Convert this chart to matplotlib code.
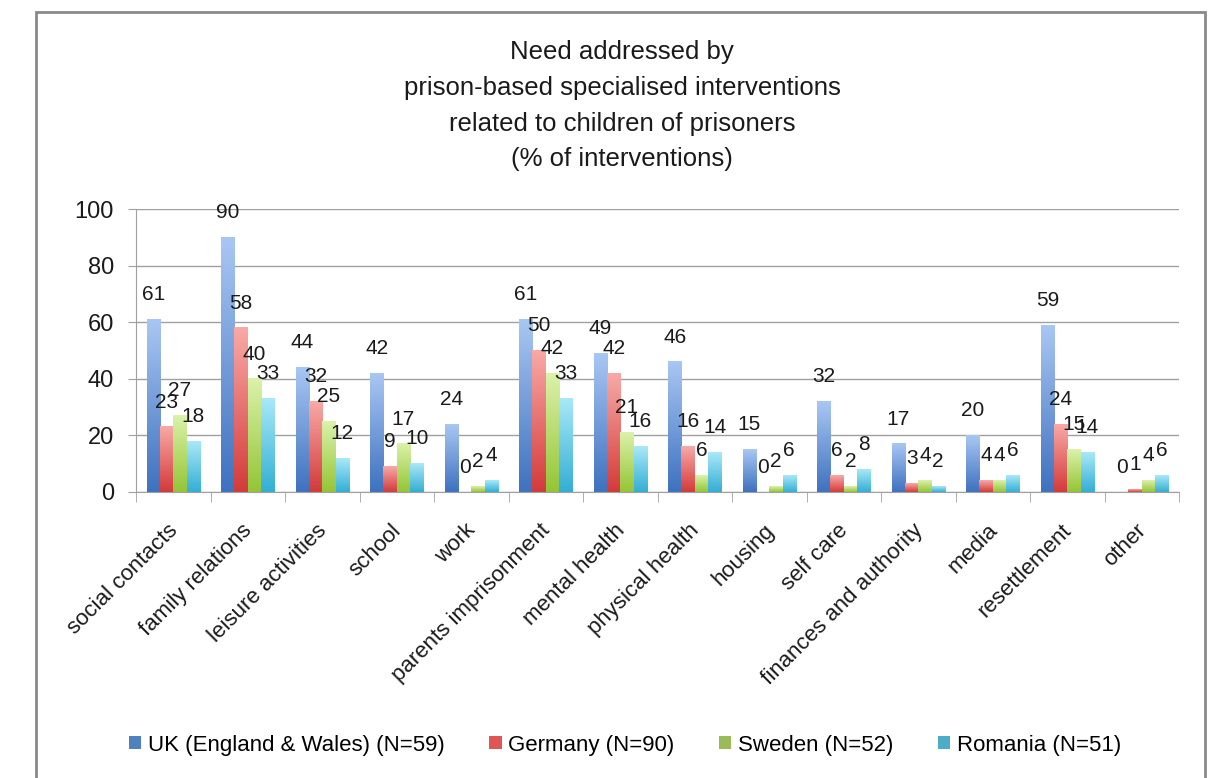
import numpy as np
import matplotlib.pyplot as plt
import matplotlib.transforms as mtransforms
from matplotlib.patches import Patch, Rectangle
from matplotlib.colors import LinearSegmentedColormap

plt.rcParams['font.family'] = ['Liberation Sans', 'DejaVu Sans']

categories = ['social contacts', 'family relations', 'leisure activities', 'school', 'work',
              'parents imprisonment', 'mental health', 'physical health', 'housing', 'self care',
              'finances and authority', 'media', 'resettlement', 'other']
series_names = ['UK (England & Wales) (N=59)', 'Germany (N=90)', 'Sweden (N=52)', 'Romania (N=51)']
uk = [61, 90, 44, 42, 24, 61, 49, 46, 15, 32, 17, 20, 59, 0]
germany = [23, 58, 32, 9, 0, 50, 42, 16, 0, 6, 3, 4, 24, 1]
sweden = [27, 40, 25, 17, 2, 42, 21, 6, 2, 2, 4, 4, 15, 4]
romania = [18, 33, 12, 10, 4, 33, 16, 14, 6, 8, 2, 6, 14, 6]
yticks = [0, 20, 40, 60, 80, 100]
title = ('Need addressed by\nprison-based specialised interventions\n'
         'related to children of prisoners\n(% of interventions)')

# (top colour, bottom colour, legend colour) per series
colours = [('#a9c7f3', '#3e71bf', '#4f81bd'),
           ('#f8aaa7', '#d33a3a', '#e05555'),
           ('#dbf2ab', '#94c535', '#9bbb59'),
           ('#a9e9f8', '#33aed4', '#4bacc6')]

fig = plt.figure(figsize=(12.08, 7.78), dpi=100)
# outer chart frame, bottom edge runs off the picture like the original
fig.patches.append(Rectangle((36 / 1208, -0.02), (1205 - 36) / 1208, 1 - 12 / 778 + 0.02,
                             transform=fig.transFigure, fill=False,
                             edgecolor='#8a8a8a', linewidth=2))

ax = fig.add_axes([136 / 1208, 1 - 492 / 778, (1179 - 136) / 1208, (492 - 209) / 778])

x = np.arange(len(categories))
width = 0.178
grad = np.linspace(1, 0, 256).reshape(-1, 1)

for i, vals in enumerate([uk, germany, sweden, romania]):
    top, bottom, _ = colours[i]
    cmap = LinearSegmentedColormap.from_list('g%d' % i, [bottom, top])
    offs = (i - 1.5) * width
    for xi, v in zip(x, vals):
        x0 = xi + offs - width / 2
        if v > 0:
            ax.imshow(grad, extent=[x0, x0 + width, 0, v], aspect='auto',
                      cmap=cmap, vmin=0, vmax=1, zorder=2, interpolation='bilinear')
        ax.annotate(str(v), (xi + offs, v), xytext=(0, 11), textcoords='offset points',
                    ha='center', va='bottom', fontsize=15, color='#1a1a1a', zorder=4)

ax.set_xlim(-0.5, len(categories) - 0.5)
ax.set_ylim(0, 100)
ax.set_yticks(yticks)
ax.tick_params(axis='y', labelsize=17, length=6, color='#a0a0a0', pad=10, labelcolor='#1a1a1a')
ax.grid(axis='y', color='#a0a0a0', linewidth=1, zorder=0)
ax.set_axisbelow(True)

ax.set_xticks(x)
ax.set_xticklabels(categories, rotation=45, ha='right', rotation_mode='anchor',
                   fontsize=16, color='#1a1a1a')
ax.tick_params(axis='x', which='major', length=0, pad=20)
shift = mtransforms.ScaledTranslation(-0.06, 0, fig.dpi_scale_trans)
for lab in ax.get_xticklabels():
    lab.set_transform(lab.get_transform() + shift)
ax.set_xticks(np.arange(len(categories) + 1) - 0.5, minor=True)
ax.tick_params(axis='x', which='minor', length=7, color='#a0a0a0')

for s in ['top', 'right']:
    ax.spines[s].set_visible(False)
for s in ['left', 'bottom']:
    ax.spines[s].set_color('#a0a0a0')

fig.text(622 / 1208, 1 - 40 / 778, title, ha='center', va='top', fontsize=18.5,
         linespacing=1.62, color='#1a1a1a')

handles = [Patch(facecolor=c[2], edgecolor='none') for c in colours]
fig.legend(handles, series_names, loc='center', bbox_to_anchor=(625 / 1208, 1 - 745 / 778),
           ncol=4, frameon=False, fontsize=16, handlelength=0.55, handleheight=0.55,
           handletextpad=0.3, columnspacing=2.0)

fig.savefig('out.png', dpi=100)
